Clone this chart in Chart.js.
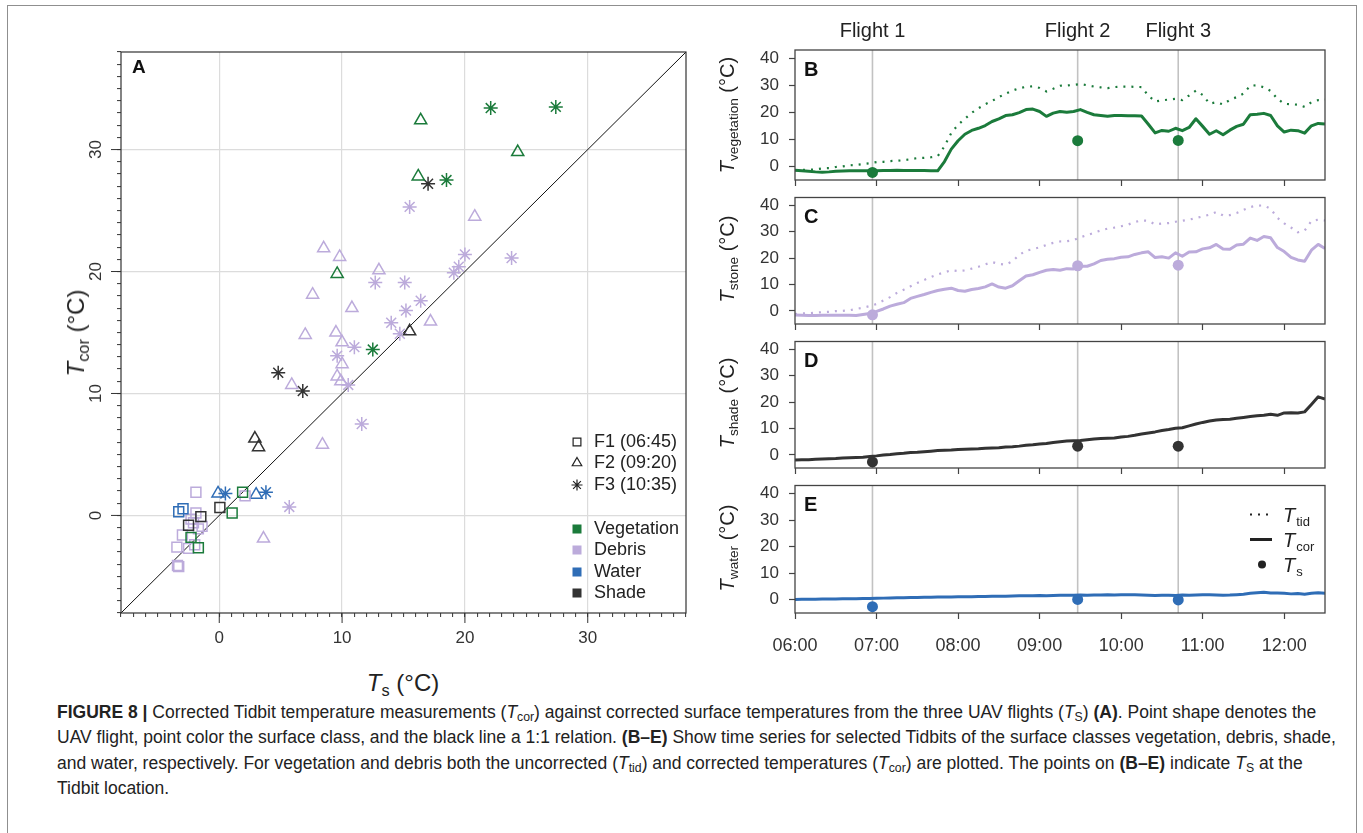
<!DOCTYPE html>
<html>
<head>
<meta charset="utf-8">
<script src="https://cdn.jsdelivr.net/npm/chart.js@4.4.0/dist/chart.umd.min.js"></script>
<style>
body { margin:0; background:#fff; font-family:"Liberation Sans", Arial, Helvetica, sans-serif; color:#222; }
#page { position:relative; width:1363px; height:833px; overflow:hidden; background:#fff; }
#frame { position:absolute; left:7px; top:5px; width:1348px; height:860px; border:1px solid #8f8f8f; }
canvas { position:absolute; }
.lbl { position:absolute; white-space:nowrap; color:#222; line-height:1; }
.lbl sub { font-size:0.68em; vertical-align:-0.3em; line-height:0; }
.rot { transform:translate(-50%, -50%) rotate(-90deg); }
.ctr { transform:translate(-50%, -50%); }
#caption { position:absolute; left:57px; top:700px; font-size:17.5px; line-height:25.4px; color:#222; }
#caption div { white-space:nowrap; }
#caption sub { font-size:0.7em; vertical-align:-0.25em; line-height:0; }
</style>
</head>
<body>
<div id="page">
<div id="frame"></div>

<canvas id="chartA" width="640" height="618" style="left:60px;top:40px"></canvas>
<canvas id="chartB" width="605" height="187" style="left:735px;top:5px"></canvas>
<canvas id="chartC" width="605" height="144" style="left:735px;top:192px"></canvas>
<canvas id="chartD" width="605" height="144" style="left:735px;top:336px"></canvas>
<canvas id="chartE" width="605" height="178" style="left:735px;top:480px"></canvas>

<div class="lbl rot" style="left:76px;top:333px;font-size:24px"><i>T</i><sub>cor</sub> (°C)</div>
<div class="lbl ctr" style="left:403px;top:683px;font-size:24px"><i>T</i><sub>s</sub> (°C)</div>

<div class="lbl rot" style="left:727px;top:115px;font-size:20px"><i>T</i><sub>vegetation</sub> (°C)</div>
<div class="lbl rot" style="left:727px;top:259px;font-size:20px"><i>T</i><sub>stone</sub> (°C)</div>
<div class="lbl rot" style="left:727px;top:403px;font-size:20px"><i>T</i><sub>shade</sub> (°C)</div>
<div class="lbl rot" style="left:727px;top:548px;font-size:20px"><i>T</i><sub>water</sub> (°C)</div>

<div id="caption">
<div><b>FIGURE 8 |</b> Corrected Tidbit temperature measurements (<i>T</i><sub>cor</sub>) against corrected surface temperatures from the three UAV flights (<i>T</i><sub>S</sub>) <b>(A)</b>. Point shape denotes the</div>
<div>UAV flight, point color the surface class, and the black line a 1:1 relation. <b>(B–E)</b> Show time series for selected Tidbits of the surface classes vegetation, debris, shade,</div>
<div>and water, respectively. For vegetation and debris both the uncorrected (<i>T</i><sub>tid</sub>) and corrected temperatures (<i>T</i><sub>cor</sub>) are plotted. The points on <b>(B–E)</b> indicate <i>T</i><sub>S</sub> at the</div>
<div>Tidbit location.</div>
</div>
</div>

<script>
// Panel A: Tidbit temperature vs UAV surface temperature, per flight
const f1Ts    = [-1.9, 2.1, -1.9, -2.3, -2.1, -1.4, -1.7, -3.0, -3.45, -2.5, -2.0, -3.3, -3.4, 1.9, 1.05, -2.3, -1.7, -2.95, -3.3, 0.05, -1.5, -2.5];
const f1Tcor  = [1.9, 1.6, 0.2, -0.3, -0.6, -0.9, -1.1, -1.6, -2.6, -2.7, -2.4, -4.2, -4.1, 1.9, 0.2, -1.8, -2.65, 0.55, 0.3, 0.65, -0.1, -0.8];
const f1Class = ["deb","deb","deb","deb","deb","deb","deb","deb","deb","deb","deb","deb","deb","veg","veg","veg","veg","wat","wat","sha","sha","sha"];

const f2Ts    = [16.4, 24.3, 16.2, 9.6, 20.8, 8.5, 9.8, 13.0, 7.6, 10.8, 17.2, 7.0, 9.5, 10.0, 10.0, 9.6, 9.9, 5.9, 8.4, 3.6, -0.1, 3.0, 15.5, 2.9, 3.2];
const f2Tcor  = [32.4, 29.8, 27.8, 19.8, 24.5, 21.9, 21.2, 20.1, 18.1, 17.0, 15.9, 14.8, 15.0, 14.2, 12.4, 11.4, 11.0, 10.7, 5.8, -1.9, 1.8, 1.7, 15.1, 6.3, 5.6];
const f2Class = ["veg","veg","veg","veg","deb","deb","deb","deb","deb","deb","deb","deb","deb","deb","deb","deb","deb","deb","deb","deb","wat","wat","sha","sha","sha"];

const f3Ts    = [22.1, 27.4, 18.5, 12.5, 15.5, 20.0, 19.5, 19.1, 23.8, 12.7, 15.1, 16.4, 15.2, 14.0, 14.7, 11.0, 9.6, 10.5, 11.6, 5.7, 0.5, 3.8, 17.0, 4.8, 6.8];
const f3Tcor  = [33.4, 33.5, 27.5, 13.6, 25.3, 21.4, 20.4, 19.9, 21.1, 19.1, 19.1, 17.6, 16.8, 15.8, 14.9, 13.8, 13.1, 10.7, 7.5, 0.7, 1.8, 1.9, 27.2, 11.7, 10.2];
const f3Class = ["veg","veg","veg","veg","deb","deb","deb","deb","deb","deb","deb","deb","deb","deb","deb","deb","deb","deb","deb","deb","wat","wat","sha","sha","sha"];

const oneToOne = [-8, 38];
const flightLegend = ["F1 (06:45)", "F2 (09:20)", "F3 (10:35)"];
const classLegend = ["Vegetation", "Debris", "Water", "Shade"];

// Panels B-E: time series every 5 min
const times = [
  "06:00","06:05","06:10","06:15","06:20","06:25","06:30","06:35","06:40","06:45","06:50","06:55",
  "07:00","07:05","07:10","07:15","07:20","07:25","07:30","07:35","07:40","07:45","07:50","07:55",
  "08:00","08:05","08:10","08:15","08:20","08:25","08:30","08:35","08:40","08:45","08:50","08:55",
  "09:00","09:05","09:10","09:15","09:20","09:25","09:30","09:35","09:40","09:45","09:50","09:55",
  "10:00","10:05","10:10","10:15","10:20","10:25","10:30","10:35","10:40","10:45","10:50","10:55",
  "11:00","11:05","11:10","11:15","11:20","11:25","11:30","11:35","11:40","11:45","11:50","11:55",
  "12:00","12:05","12:10","12:15","12:20","12:25","12:30"
];
const flightTimes = ["06:57", "09:28", "10:42"];
const flightNames = ["Flight 1", "Flight 2", "Flight 3"];

const vegTid = [-1.4,-1.3,-1.2,-1.1,-0.7,-0.6,-0.2,0.0,0.4,0.6, 0.9,1.2,1.6,1.7,2.0,2.1,2.3,2.7,3.1,3.2,
  3.4,3.8,7.4,12.4,15.4,17.6,19.8,21.5,23.0,24.2, 25.6,26.9,28.0,28.9,29.4,29.6,29.0,27.7,28.7,29.8,
  29.9,30.1,30.4,30.0,29.5,29.2,28.9,29.3,29.5,29.5, 29.4,29.3,26.2,24.0,24.4,24.7,25.0,24.5,26.2,28.0,
  26.4,23.2,23.7,22.9,24.6,25.6,26.9,29.8,30.0,29.2, 27.9,25.0,23.1,23.0,22.8,22.0,23.7,24.5,24.7];
const vegCor = [-1.4,-1.6,-1.8,-2.0,-2.1,-2.0,-1.8,-1.7,-1.6,-1.6, -1.6,-1.6,-1.6,-1.5,-1.5,-1.4,-1.5,-1.5,-1.5,-1.5,
  -1.6,-1.6,1.8,6.4,9.5,11.9,13.3,14.1,15.1,16.6, 17.6,18.8,19.1,19.9,21.0,21.2,20.3,18.5,19.7,20.3,
  20.0,20.3,21.0,20.0,19.1,18.8,18.5,18.8,18.8,18.7, 18.7,18.6,15.6,12.4,13.3,13.0,14.1,13.2,14.4,17.6,
  14.8,11.9,13.2,11.7,13.4,14.8,15.6,19.1,19.3,19.6, 18.8,15.0,12.7,13.4,13.2,12.3,15.0,15.9,15.7];
const vegTs = [-2.2, 9.5, 9.6];

const debTid = [-1.2,-1.0,-0.9,-0.7,-0.5,-0.4,-0.1,0.0,0.2,0.7, 1.2,1.8,2.6,3.9,5.2,6.8,8.0,9.3,10.6,11.7,
  12.8,13.8,14.6,15.4,15.1,15.3,16.0,16.7,17.6,18.5, 17.8,17.5,18.8,21.2,22.8,23.4,24.1,25.0,25.8,26.3,
  26.4,26.8,27.9,28.7,29.6,30.5,31.2,31.6,32.1,32.7, 33.7,34.3,34.2,32.8,33.1,33.3,33.8,34.2,34.6,35.2,
  35.8,36.5,37.5,36.2,36.3,37.1,38.3,39.4,39.9,40.0, 38.7,35.3,33.2,31.6,29.8,30.4,34.1,34.6,34.3];
const debCor = [-1.6,-1.7,-1.8,-1.8,-1.7,-1.7,-1.7,-1.7,-1.7,-1.8, -1.4,-1.0,-0.2,0.7,1.8,2.5,3.1,4.7,5.5,6.2,
  7.0,7.7,8.2,8.6,7.7,7.4,8.1,8.5,9.1,10.2, 9.0,8.6,9.5,11.4,13.2,13.7,14.6,15.4,15.7,15.4,
  16.0,15.9,16.9,16.9,17.8,19.1,19.6,19.8,20.3,20.5, 21.4,22.0,22.4,20.2,20.5,20.0,22.0,20.7,22.3,22.4,
  23.5,23.9,25.2,23.5,23.4,25.0,25.3,27.6,26.7,28.2, 27.7,24.0,22.5,20.3,19.3,18.8,23.0,25.2,23.7];
const debTs = [-1.5, 17.1, 17.3];

const shadeCor = [-2.0,-1.9,-1.85,-1.7,-1.6,-1.5,-1.4,-1.2,-1.1,-1.0, -0.9,-0.6,-0.4,-0.1,0.1,0.4,0.6,0.9,1.0,1.2,
  1.4,1.6,1.7,1.8,2.0,2.1,2.2,2.3,2.5,2.6, 2.7,3.0,3.1,3.3,3.6,3.8,4.1,4.3,4.7,5.0,
  5.2,5.3,5.4,5.7,6.0,6.2,6.3,6.4,6.8,7.0, 7.4,7.9,8.3,8.7,9.2,9.6,10.1,10.3,11.0,11.7,
  12.3,12.8,13.2,13.4,13.5,13.9,14.2,14.5,14.8,15.0, 15.4,15.0,15.9,16.0,15.9,16.3,19.1,22.0,21.2];
const shadeTs = [-2.7, 3.3, 3.3];

const waterCor = [0.1,0.15,0.2,0.2,0.25,0.3,0.3,0.35,0.4,0.4, 0.45,0.5,0.55,0.6,0.65,0.7,0.75,0.8,0.85,0.9,
  0.95,1.0,1.0,1.05,1.1,1.1,1.15,1.2,1.25,1.3, 1.3,1.35,1.4,1.45,1.5,1.5,1.55,1.5,1.6,1.65,
  1.7,1.7,1.75,1.7,1.8,1.8,1.85,1.8,1.85,1.9, 1.85,1.8,1.7,1.6,1.65,1.7,1.6,1.75,1.7,1.8,
  1.9,1.85,1.8,1.7,1.75,1.9,2.1,2.4,2.6,2.8, 2.5,2.55,2.4,2.2,2.3,2.1,2.4,2.6,2.4];
const waterTs = [-2.6, 0.1, -0.1];

const FONT = "'Liberation Sans', Arial, Helvetica, sans-serif";
Chart.defaults.font.family = FONT;
Chart.defaults.color = "#333";

const GREEN = "#1b7b3b";
const LAVENDER = "#bcabdb";
const BLUE = "#2f6db6";
const DARK = "#333333";
const classColor = { veg: GREEN, deb: LAVENDER, wat: BLUE, sha: DARK };
const legendColors = [GREEN, LAVENDER, BLUE, DARK];
const flightStyle = [
  { style: "rect", radius: 7 },
  { style: "triangle", radius: 7 },
  { style: "star", radius: 7 }
];

function hhmm(t) { return Number(t.slice(0, 2)) + Number(t.slice(3)) / 60; }
function series(vals) { return times.map((t, i) => ({ x: hhmm(t), y: vals[i] })); }

// ---------- Panel A ----------

const flightData = [
  { ts: f1Ts, tcor: f1Tcor, cls: f1Class },
  { ts: f2Ts, tcor: f2Tcor, cls: f2Class },
  { ts: f3Ts, tcor: f3Tcor, cls: f3Class }
];

const scatterSets = [];
flightData.forEach((f, k) => {
  ["veg", "sha", "wat", "deb"].forEach(c => {
    const pts = [];
    f.ts.forEach((x, i) => { if (f.cls[i] === c) pts.push({ x: x, y: f.tcor[i] }); });
    scatterSets.push({
      type: "scatter",
      data: pts,
      pointStyle: flightStyle[k].style,
      pointRadius: flightStyle[k].radius,
      pointBorderWidth: 1.5,
      pointBorderColor: classColor[c],
      pointBackgroundColor: "rgba(0,0,0,0)",
      showLine: false
    });
  });
});

const aDeco = {
  id: "aDeco",
  afterDraw(chart) {
    const { ctx, chartArea: a, scales: { x, y } } = chart;
    ctx.save();
    // longer major ticks
    ctx.strokeStyle = "#333";
    ctx.lineWidth = 1;
    x.ticks.forEach(t => {
      if (t.value % 10 !== 0) return;
      const px = x.getPixelForValue(t.value);
      ctx.beginPath(); ctx.moveTo(px, a.bottom); ctx.lineTo(px, a.bottom + 10); ctx.stroke();
    });
    y.ticks.forEach(t => {
      if (t.value % 10 !== 0) return;
      const py = y.getPixelForValue(t.value);
      ctx.beginPath(); ctx.moveTo(a.left, py); ctx.lineTo(a.left - 10, py); ctx.stroke();
    });
    // rotated y labels
    ctx.fillStyle = "#333";
    ctx.font = "17px " + FONT;
    ctx.textAlign = "center";
    ctx.textBaseline = "middle";
    y.ticks.forEach(t => {
      if (t.value % 10 !== 0) return;
      const py = y.getPixelForValue(t.value);
      ctx.save();
      ctx.translate(a.left - 25, py);
      ctx.rotate(-Math.PI / 2);
      ctx.fillText(String(t.value), 0, 0);
      ctx.restore();
    });
    // frame
    ctx.strokeStyle = "#333";
    ctx.lineWidth = 1.2;
    ctx.strokeRect(a.left, a.top, a.right - a.left, a.bottom - a.top);
    // letter
    ctx.fillStyle = "#111";
    ctx.font = "bold 19px " + FONT;
    ctx.textAlign = "left";
    ctx.textBaseline = "top";
    ctx.fillText("A", a.left + 11, a.top + 6);
    // legend
    const sx = a.right - 109, tx = sx + 17;
    ctx.font = "18px " + FONT;
    ctx.textBaseline = "middle";
    const fy = [a.bottom - 171, a.bottom - 150, a.bottom - 128];
    flightLegend.forEach((lab, i) => {
      ctx.strokeStyle = "#222";
      ctx.fillStyle = "rgba(0,0,0,0)";
      Chart.helpers.drawPoint(ctx, { pointStyle: flightStyle[i].style, radius: flightStyle[i].radius - 1.5, borderWidth: 2, rotation: 0 }, sx, fy[i]);
      ctx.fillStyle = "#222";
      ctx.fillText(lab, tx, fy[i]);
    });
    const cy = [a.bottom - 84, a.bottom - 63, a.bottom - 41, a.bottom - 20];
    classLegend.forEach((lab, i) => {
      ctx.fillStyle = legendColors[i];
      ctx.fillRect(sx - 4.5, cy[i] - 4.5, 9, 9);
      ctx.fillStyle = "#222";
      ctx.fillText(lab, tx, cy[i]);
    });
    ctx.restore();
  }
};

new Chart(document.getElementById("chartA"), {
  type: "scatter",
  data: {
    datasets: scatterSets.concat([{
      type: "line",
      data: oneToOne.map(v => ({ x: v, y: v })),
      borderColor: "#111",
      borderWidth: 1,
      pointRadius: 0
    }])
  },
  options: {
    responsive: false,
    animation: false,
    devicePixelRatio: 1,
    layout: { padding: { top: 12, right: 14, left: 0, bottom: 0 } },
    plugins: { legend: { display: false }, tooltip: { enabled: false } },
    scales: {
      x: {
        type: "linear", min: -8, max: 38,
        ticks: { stepSize: 1, maxTicksLimit: 100, autoSkip: false, includeBounds: false, maxRotation: 0,
          font: { size: 17 }, color: "#333", padding: 11,
          callback: v => (v % 10 === 0 ? String(v) : "") },
        grid: { color: c => (c.tick && c.tick.value % 10 === 0 ? "#dcdcdc" : "rgba(0,0,0,0)"),
          lineWidth: 1.2, tickLength: 4, tickColor: "#333", tickWidth: 1 },
        border: { display: false },
        afterFit: s => { s.height = 45; }
      },
      y: {
        type: "linear", min: -8, max: 38,
        ticks: { stepSize: 1, maxTicksLimit: 100, autoSkip: false, includeBounds: false, display: false },
        grid: { color: c => (c.tick && c.tick.value % 10 === 0 ? "#dcdcdc" : "rgba(0,0,0,0)"),
          lineWidth: 1.2, tickLength: 4, tickColor: "#333", tickWidth: 1 },
        border: { display: false },
        afterFit: s => { s.width = 61; }
      }
    }
  },
  plugins: [aDeco]
});

// ---------- Panels B-E ----------

const panelDeco = {
  id: "panelDeco",
  beforeDatasetsDraw(chart) {
    const { ctx, chartArea: a, scales: { x } } = chart;
    ctx.save();
    ctx.strokeStyle = "#c2c2c2";
    ctx.lineWidth = 1.6;
    flightTimes.forEach(t => {
      const px = x.getPixelForValue(hhmm(t));
      ctx.beginPath(); ctx.moveTo(px, a.top); ctx.lineTo(px, a.bottom); ctx.stroke();
    });
    ctx.restore();
  },
  afterDraw(chart) {
    const { ctx, chartArea: a, scales: { x, y } } = chart;
    const o = chart.options.plugins.panelDeco;
    ctx.save();
    ctx.strokeStyle = "#444";
    ctx.lineWidth = 1.3;
    ctx.strokeRect(a.left, a.top, a.right - a.left, a.bottom - a.top);
    // y tick labels
    ctx.fillStyle = "#333";
    ctx.font = "17px " + FONT;
    ctx.textAlign = "right";
    ctx.textBaseline = "middle";
    y.ticks.forEach(t => ctx.fillText(String(t.value), a.left - 16, y.getPixelForValue(t.value)));
    // panel letter
    ctx.fillStyle = "#111";
    ctx.font = "bold 20px " + FONT;
    ctx.textAlign = "left";
    ctx.textBaseline = "top";
    ctx.fillText(o.letter, a.left + 9, a.top + 10);
    if (o.flightLabels) {
      ctx.font = "20px " + FONT;
      ctx.fillStyle = "#222";
      ctx.textAlign = "center";
      ctx.textBaseline = "middle";
      flightTimes.forEach((t, i) => ctx.fillText(flightNames[i], x.getPixelForValue(hhmm(t)), a.top - 19));
    }
    if (o.legend) {
      const x0 = a.left + 455, tx = a.left + 488;
      const ys = [a.top + 29, a.top + 54, a.top + 79];
      ctx.strokeStyle = "#222";
      ctx.fillStyle = "#222";
      ctx.lineWidth = 2.2;
      ctx.setLineDash([2, 6]);
      ctx.beginPath(); ctx.moveTo(x0, ys[0]); ctx.lineTo(x0 + 22, ys[0]); ctx.stroke();
      ctx.setLineDash([]);
      ctx.lineWidth = 3;
      ctx.beginPath(); ctx.moveTo(x0, ys[1]); ctx.lineTo(x0 + 22, ys[1]); ctx.stroke();
      ctx.beginPath(); ctx.arc(x0 + 12, ys[2], 4, 0, Math.PI * 2); ctx.fill();
      ["tid", "cor", "s"].forEach((sub, i) => {
        ctx.textAlign = "left";
        ctx.textBaseline = "alphabetic";
        ctx.font = "italic 20px " + FONT;
        ctx.fillText("T", tx, ys[i] + 7);
        const w = ctx.measureText("T").width;
        ctx.font = "13px " + FONT;
        ctx.fillText(sub, tx + w + 1, ys[i] + 11);
      });
    }
    ctx.restore();
  }
};

function makePanel(id, cfg) {
  const sets = [{
    type: "scatter",
    data: flightTimes.map((t, i) => ({ x: hhmm(t), y: cfg.ts[i] })),
    pointRadius: 5.5,
    pointBackgroundColor: cfg.color,
    pointBorderWidth: 0,
    showLine: false
  }, {
    type: "line",
    data: series(cfg.cor),
    borderColor: cfg.color,
    borderWidth: 3,
    pointRadius: 0,
    borderJoinStyle: "round"
  }];
  if (cfg.tid) {
    sets.push({
      type: "line",
      data: series(cfg.tid),
      borderColor: cfg.tidColor,
      borderWidth: 2.2,
      borderDash: [2, 6],
      pointRadius: 0
    });
  }
  new Chart(document.getElementById(id), {
    type: "line",
    data: { datasets: sets },
    options: {
      responsive: false,
      animation: false,
      devicePixelRatio: 1,
      layout: { padding: { top: cfg.padTop, right: 15, left: 0, bottom: 0 } },
      plugins: {
        legend: { display: false },
        tooltip: { enabled: false },
        panelDeco: { letter: cfg.letter, flightLabels: !!cfg.flightLabels, legend: !!cfg.legend }
      },
      scales: {
        x: {
          type: "linear", min: 6, max: 12.5,
          ticks: { stepSize: 1, includeBounds: false, autoSkip: false, maxRotation: 0,
            display: !!cfg.timeLabels,
            font: { size: 18 }, color: "#333", padding: 16,
            callback: v => (v < 10 ? "0" : "") + v + ":00" },
          grid: { drawOnChartArea: false, tickLength: 6, tickColor: "#444", tickWidth: 1.2 },
          border: { display: false },
          afterFit: s => { s.height = cfg.axisH; }
        },
        y: {
          type: "linear", min: -5, max: 43,
          ticks: { stepSize: 10, includeBounds: false, display: false },
          grid: { drawOnChartArea: false, tickLength: 6, tickColor: "#444", tickWidth: 1.2 },
          border: { display: false },
          afterFit: s => { s.width = 60; }
        }
      }
    },
    plugins: [panelDeco]
  });
}

makePanel("chartB", { letter: "B", cor: vegCor, tid: vegTid, ts: vegTs, color: GREEN, tidColor: GREEN, padTop: 45, axisH: 12, flightLabels: true });
makePanel("chartC", { letter: "C", cor: debCor, tid: debTid, ts: debTs, color: LAVENDER, tidColor: LAVENDER, padTop: 2, axisH: 12 });
makePanel("chartD", { letter: "D", cor: shadeCor, ts: shadeTs, color: DARK, padTop: 3, axisH: 12 });
makePanel("chartE", { letter: "E", cor: waterCor, ts: waterTs, color: BLUE, padTop: 4, axisH: 45, timeLabels: true, legend: true });
</script>
</body>
</html>
